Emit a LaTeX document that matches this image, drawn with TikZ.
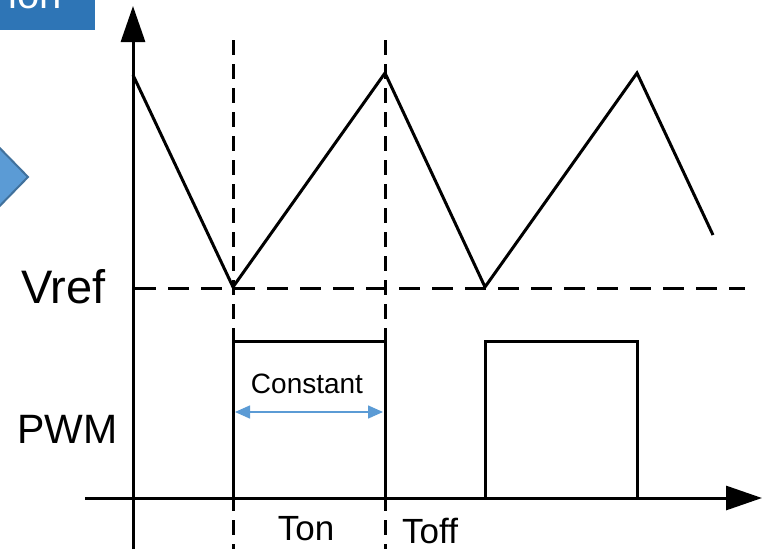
\documentclass[tikz,border=0pt]{standalone}
\usepackage{fontspec}
\setmainfont{Liberation Sans}
\usetikzlibrary{arrows.meta}
\definecolor{boxblue}{RGB}{46,117,182}
\definecolor{chevfill}{RGB}{91,155,213}
\definecolor{chevedge}{RGB}{65,113,156}
\definecolor{arrblue}{RGB}{91,155,213}
\tikzset{
  wave/.style={line width=3pt, line join=miter, black},
  axis/.style={line width=3pt, black, -{Triangle[length=36pt,width=24pt]}},
  vdash/.style={line width=3pt, black, dash pattern=on 15pt off 9pt},
  hdash/.style={line width=3pt, black, dash pattern=on 21pt off 12pt},
  lbl/.style={inner sep=0pt, text=black},
}
\begin{document}
\begin{tikzpicture}[x=1pt,y=-1pt]
\useasboundingbox (0,0) rectangle (765,549);
\begin{scope}
\clip (0,0) rectangle (765,549);
% top-left blue box with cut text
\fill[boxblue] (-5,-10) rectangle (95,30);
\node[lbl, anchor=base east, text=white, font=\fontsize{40}{40}\selectfont] (ion) at (62,8) {ion};
% chevron
\filldraw[fill=chevfill, draw=chevedge, line width=2pt] (-12,136) -- (28,177) -- (-12,218) -- cycle;
\end{scope}
% axes
\coordinate (yb) at (133,549);
\coordinate (yt) at (133,6);
\coordinate (xl) at (85,498);
\coordinate (xr) at (762,498);
\draw[axis] (yb) -- (yt);
\draw[axis] (xl) -- (xr);
% dashed lines
\draw[vdash] (233,40) -- (233,549);
\draw[vdash] (385,40) -- (385,549);
\draw[hdash] (135,288) -- (745,288);
% triangle wave
\draw[wave] (133,75) -- (233,287) -- (385,73) -- (485,287) -- (637,73) -- (713,235);
% PWM pulses
\draw[wave] (233,498) -- (233,341) -- (385,341) -- (385,498);
\draw[wave] (485,498) -- (485,341) -- (637,341) -- (637,498);
% constant arrow
\coordinate (ca) at (235,412);
\coordinate (cb) at (383,412);
\draw[arrblue, line width=1.5pt, {Triangle[length=15pt,width=13pt]}-{Triangle[length=15pt,width=13pt]}] (ca) -- (cb);
% labels
\node[lbl, anchor=base, font=\fontsize{28}{28}\selectfont] (const) at (307,393) {Constant};
\node[lbl, anchor=base west, font=\fontsize{47}{47}\selectfont] (vref) at (21,303) {Vref};
\node[lbl, anchor=base west, font=\fontsize{41}{41}\selectfont] (pwm) at (17,443) {PWM};
\node[lbl, anchor=base, font=\fontsize{35}{35}\selectfont] (ton) at (306,540) {Ton};
\node[lbl, anchor=base west, font=\fontsize{35}{35}\selectfont] (toff) at (402,543) {Toff};
\end{tikzpicture}
\end{document}
